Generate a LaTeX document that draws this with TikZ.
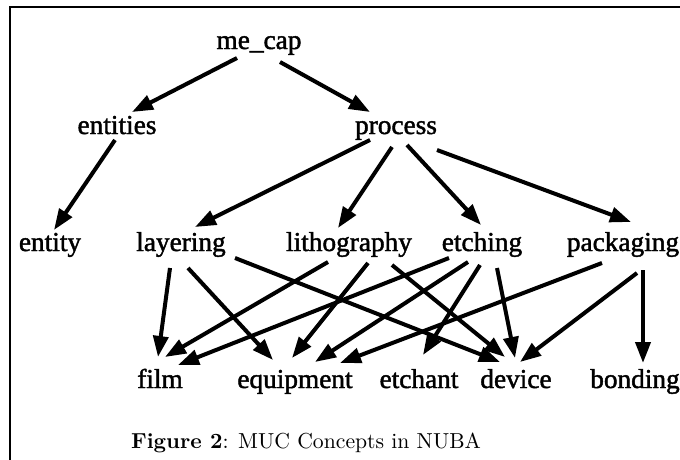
\documentclass[tikz,border=0pt]{standalone}
\usepackage{fontspec}
\usetikzlibrary{arrows.meta}
\newfontfamily\labfont[FakeBold=1.6]{Liberation Serif}
\begin{document}
\begin{tikzpicture}[x=1pt,y=-1pt,
  lab/.style={anchor=base,inner sep=0pt,font=\labfont\fontsize{27.3pt}{30pt}\selectfont},
  captext/.style={anchor=base,inner sep=0pt,font=\normalsize,scale=2.17,transform shape},
  arr/.style={line width=4pt,-{Triangle[length=21pt,width=15pt]}},
  frame/.style={line width=2pt}]
\useasboundingbox (0,0) rectangle (680,460);
\draw[frame] (10,460) -- (10,7) -- (680,7);
% nodes
\node[lab] (mecap) at (259,49) {me\_cap};
\node[lab] (entities) at (117,134) {entities};
\node[lab] (process) at (396,134) {process};
\node[lab] (entity) at (50,251) {entity};
\node[lab] (layering) at (181,251) {layering};
\node[lab] (litho) at (349,251) {lithography};
\node[lab] (etching) at (482,251) {etching};
\node[lab] (packaging) at (623,251) {packaging};
\node[lab] (film) at (160,388) {film};
\node[lab] (equipment) at (295,388) {equipment};
\node[lab] (etchant) at (419,388) {etchant};
\node[lab] (device) at (516,388) {device};
\node[lab] (bonding) at (635,388) {bonding};
\node[captext] (caption) at (306,448) {\textbf{Figure 2}: MUC Concepts in NUBA};
% edges
\draw[arr] ([shift={(-22,9)}]mecap.base) -- ([shift={(15,-22)}]entities.base);
\draw[arr] ([shift={(21,13)}]mecap.base) -- ([shift={(-26,-22)}]process.base);
\draw[arr] ([shift={(-2,6)}]entities.base) -- ([shift={(4,-21)}]entity.base);
\draw[arr] ([shift={(-26,6)}]process.base) -- ([shift={(14,-24)}]layering.base);
\draw[arr] ([shift={(-4,13)}]process.base) -- ([shift={(-11,-23)}]litho.base);
\draw[arr] ([shift={(11,11)}]process.base) -- ([shift={(-1,-26)}]etching.base);
\draw[arr] ([shift={(41,16)}]process.base) -- ([shift={(8,-29)}]packaging.base);
\draw[arr] ([shift={(-11,17)}]layering.base) -- ([shift={(-2,-31)}]film.base);
\draw[arr] ([shift={(7,17)}]layering.base) -- ([shift={(-22,-28)}]equipment.base);
\draw[arr] ([shift={(54,7)}]layering.base) -- ([shift={(-16,-26)}]device.base);
\draw[arr] ([shift={(-21,11)}]litho.base) -- ([shift={(5,-31)}]film.base);
\draw[arr] ([shift={(19,12)}]litho.base) -- ([shift={(-3,-30)}]equipment.base);
\draw[arr] ([shift={(43,14)}]litho.base) -- ([shift={(-11,-31)}]device.base);
\draw[arr] ([shift={(-33,7)}]etching.base) -- ([shift={(18,-23)}]film.base);
\draw[arr] ([shift={(-14,11)}]etching.base) -- ([shift={(20,-26)}]equipment.base);
\draw[arr] ([shift={(-2,14)}]etching.base) -- ([shift={(4,-33)}]etchant.base);
\draw[arr] ([shift={(15,17)}]etching.base) -- ([shift={(-1,-30)}]device.base);
\draw[arr] ([shift={(-21,12)}]packaging.base) -- ([shift={(45,-25)}]equipment.base);
\draw[arr] ([shift={(14,22)}]packaging.base) -- ([shift={(4,-26)}]device.base);
\draw[arr] ([shift={(20,19)}]packaging.base) -- ([shift={(8,-25)}]bonding.base);
\end{tikzpicture}
\end{document}
